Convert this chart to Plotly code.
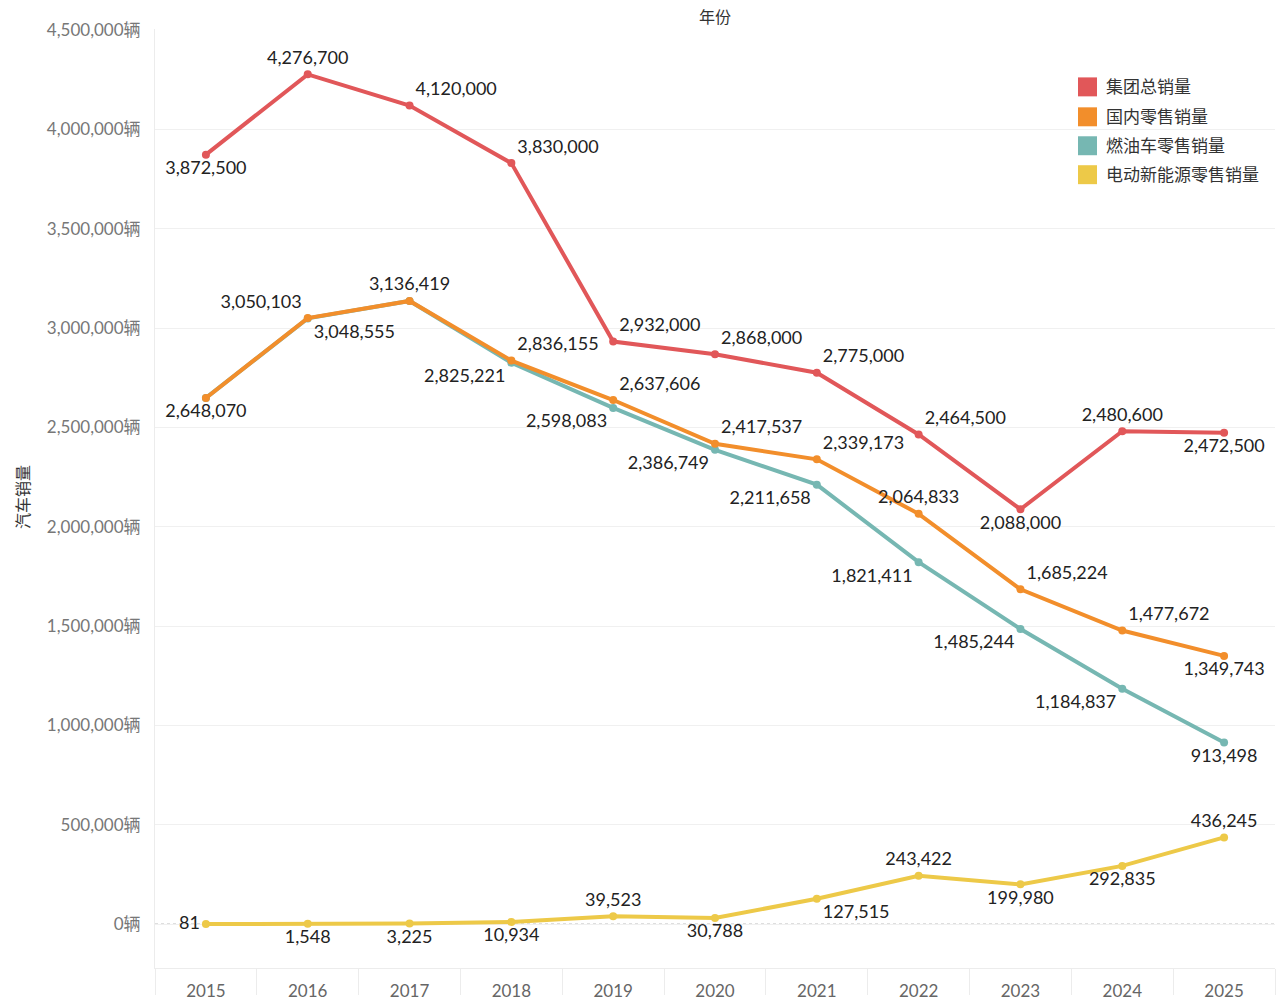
import plotly.graph_objects as go

years = [2015, 2016, 2017, 2018, 2019, 2020, 2021, 2022, 2023, 2024, 2025]
group_total = [3872500, 4276700, 4120000, 3830000, 2932000, 2868000, 2775000, 2464500, 2088000, 2480600, 2472500]
domestic_retail = [2648070, 3050103, 3136419, 2836155, 2637606, 2417537, 2339173, 2064833, 1685224, 1477672, 1349743]
ice_retail = [2648070, 3048555, 3136419, 2825221, 2598083, 2386749, 2211658, 1821411, 1485244, 1184837, 913498]
ev_retail = [81, 1548, 3225, 10934, 39523, 30788, 127515, 243422, 199980, 292835, 436245]

series_names = ["集团总销量", "国内零售销量", "燃油车零售销量", "电动新能源零售销量"]
colors = ["#e15759", "#f28e2b", "#76b7b2", "#edc948"]
y_ticks = [0, 500000, 1000000, 1500000, 2000000, 2500000, 3000000, 3500000, 4000000, 4500000]

# label placement (style only)
pos_total = ["bottom center", "top center", "top right", "top right", "top right", "top right",
             "top right", "top right", "bottom center", "top center", "bottom center"]
pos_dom = ["bottom center", "top left", "top center", "top right", "top right", "top right",
           "top right", "top center", "top right", "top right", "bottom center"]
pos_ice = ["bottom center", "bottom right", "bottom center", "bottom left", "bottom left", "bottom left",
           "bottom left", "bottom left", "bottom left", "bottom left", "bottom center"]
show_ice = [False, True, False, True, True, True, True, True, True, True, True]
pos_ev = ["middle left", "bottom center", "bottom center", "bottom center", "top center", "bottom center",
          "bottom right", "top center", "bottom center", "bottom center", "top center"]

FONT = "Lato, 'Noto Sans CJK SC', sans-serif"

def fmt(v):
    return f"{v:,}"

fig = go.Figure()

order = [(ice_retail, 2, pos_ice, show_ice), (group_total, 0, pos_total, None),
         (domestic_retail, 1, pos_dom, None), (ev_retail, 3, pos_ev, None)]
for vals, idx, pos, show in order:
    texts = [fmt(v) if (show is None or show[i]) else "" for i, v in enumerate(vals)]
    fig.add_trace(go.Scatter(
        x=years, y=vals, mode="lines+markers+text", name=series_names[idx],
        line=dict(color=colors[idx], width=4),
        marker=dict(color=colors[idx], size=8),
        text=texts, textposition=pos,
        textfont=dict(family=FONT, size=18, color="#222"),
        showlegend=False, cliponaxis=False,
    ))

fig.add_shape(type="line", xref="paper", yref="y", x0=0, x1=1, y0=0, y1=0,
              line=dict(color="#b0b0b0", width=1, dash="dot"), layer="below")

# manual legend (squares + text), positions in pixels converted to paper coords
L, R, T, B = 155, 5, 29, 36
W, H = 1280, 1006
pw, ph = W - L - R, H - T - B
def px(x):
    return (x - L) / pw
def py(y):
    return (H - B - y) / ph

legend_rows = [87, 117, 146, 175]
for i, yc in enumerate(legend_rows):
    fig.add_shape(type="rect", xref="paper", yref="paper",
                  x0=px(1078), x1=px(1097), y0=py(yc + 9.5), y1=py(yc - 9.5),
                  fillcolor=colors[i], line=dict(width=0))
    fig.add_annotation(text=series_names[i], xref="paper", yref="paper", x=px(1104), y=py(yc),
                       xanchor="left", yanchor="middle", showarrow=False,
                       font=dict(size=17, color="#333", family=FONT))

fig.update_layout(
    width=W, height=H,
    margin=dict(l=L, r=R, t=T, b=B),
    paper_bgcolor="white", plot_bgcolor="white",
    font=dict(family=FONT, color="#666"),
    showlegend=False,
    xaxis=dict(
        range=[2014.5, 2025.5], tickvals=years, ticktext=[str(y) for y in years],
        showgrid=False, zeroline=False, showline=True, linecolor="#ececec", linewidth=1,
        ticks="", tickfont=dict(size=17, color="#666"), ticklabelstandoff=8,
        minor=dict(tick0=2014.5, dtick=1, ticks="outside", ticklen=26, tickcolor="#ececec", showgrid=False),
    ),
    yaxis=dict(
        range=[-221000, 4505000], tickvals=y_ticks, ticktext=[f"{v:,}辆" for v in y_ticks],
        tickfont=dict(size=17, color="#777"),
        showgrid=True, gridcolor="#f0f0f0", gridwidth=1, zeroline=False,
        showline=True, linecolor="#ececec", ticks="", ticklabelstandoff=10,
    ),
)

fig.add_annotation(text="年份", xref="paper", yref="paper", x=0.5, y=py(16),
                   showarrow=False, font=dict(size=16, color="#333", family=FONT),
                   xanchor="center", yanchor="middle")
fig.add_annotation(text="汽车销量", xref="paper", yref="paper", x=px(22), y=py(498),
                   showarrow=False, textangle=-90, font=dict(size=16, color="#333", family=FONT),
                   xanchor="center", yanchor="middle")

fig.write_html("out.html")
